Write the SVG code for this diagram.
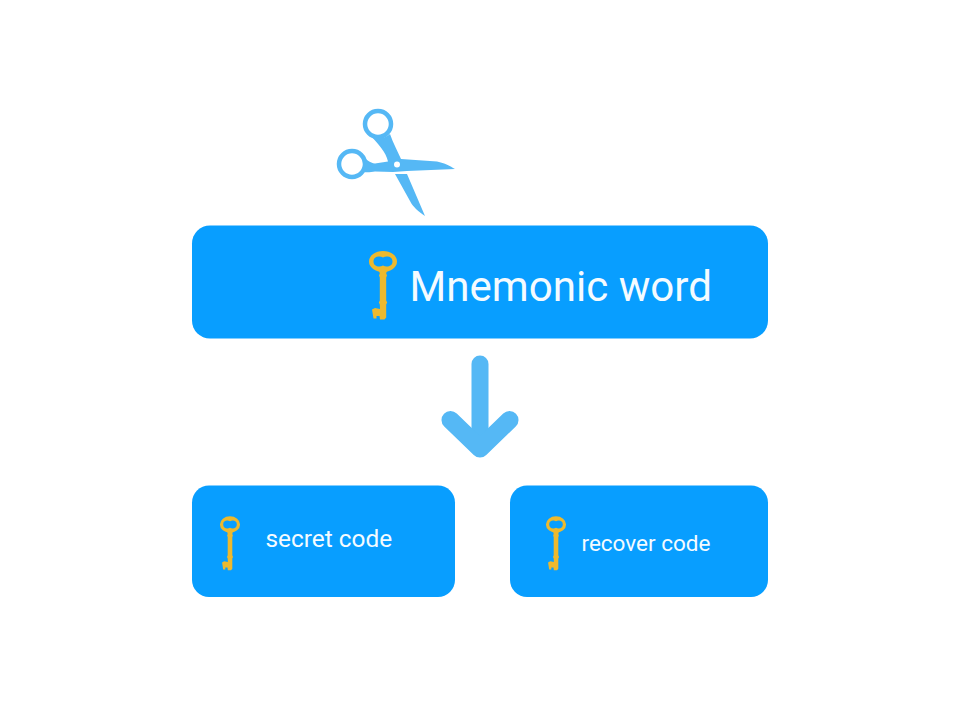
<svg xmlns="http://www.w3.org/2000/svg" width="960" height="720" viewBox="0 0 960 720">
<style>
.box{fill:#089eff}
.t{font-family:Roboto,"Liberation Sans",sans-serif;fill:#f4fbff}
.kf{fill:#edb92e}
.c{fill:#55b8f5}
</style>
<defs>
<g id="key">
<path class="kf" fill-rule="evenodd" d="M-14 0 A14 10.500 0 1 1 14 0 A14 10.500 0 1 1 -14 0 Z M-9.500 0 C-9.500 5.500 -3 5.800 0 4 C3 5.800 9.500 5.500 9.500 0 C9.500 -5.500 3 -5.800 0 -4 C-3 -5.800 -9.500 -5.500 -9.500 0 Z"/>
<path class="kf" d="M-4 9 H4 L3.200 12 L4 14 L3.200 16 V39 L4.200 41 L3.200 43 V56 L1.500 58 H-3 L-3.500 54.500 H-6.500 L-6.500 57 H-9.500 L-11 48 L-8 46.500 L-3 47.500 L-3.200 43 L-4.200 41 L-3.200 39 V16 L-4 14 L-3.200 12 Z"/>
</g>
</defs>
<rect width="960" height="720" fill="#fff"/>
<g id="scissors">
<circle cx="378" cy="124" r="13" fill="none" stroke="#55b8f5" stroke-width="4.500"/>
<circle cx="352" cy="164" r="13" fill="none" stroke="#55b8f5" stroke-width="4.500"/>
<path class="c" d="M370 135 C378 139 384 139 390 134 C393 143 398 152 401 159 L437 161.500 C445 163 450 166 455 169 L407 171 L393 172 L375 171.500 C372 171.500 368 173 364 172 L362 156 C366 159 370 163 375 163.500 L388 161.500 C386 152 378 144 370 135 Z"/>
<path class="c" d="M395 174 H407 L425 216 C418 211 413 207 410 201 Z"/>
<circle cx="397" cy="164.500" r="3" fill="#fff"/>
</g>
<g id="mnemonic">
<rect class="box" x="192" y="225.500" width="576" height="113" rx="18"/>
<use href="#key" transform="translate(383 261.500)"/>
<text class="t" x="409.500" y="301" font-size="42.100">Mnemonic word</text>
</g>
<g id="connectors">
<path d="M480 364 V446" fill="none" stroke="#55b8f5" stroke-width="17" stroke-linecap="round"/>
<path d="M450.500 420 L480 448.500 L509.500 420" fill="none" stroke="#55b8f5" stroke-width="18" stroke-linecap="round" stroke-linejoin="round"/>
</g>
<g id="secret">
<rect class="box" x="192" y="485.500" width="263" height="111.500" rx="17"/>
<use href="#key" transform="translate(230 524.500) scale(.72 .79)"/>
<text class="t" x="265.500" y="547" font-size="24.400">secret code</text>
</g>
<g id="recover">
<rect class="box" x="510" y="485.500" width="258" height="111.500" rx="17"/>
<use href="#key" transform="translate(556 524.500) scale(.72 .79)"/>
<text class="t" x="581.500" y="550.500" font-size="22.500">recover code</text>
</g>
</svg>
